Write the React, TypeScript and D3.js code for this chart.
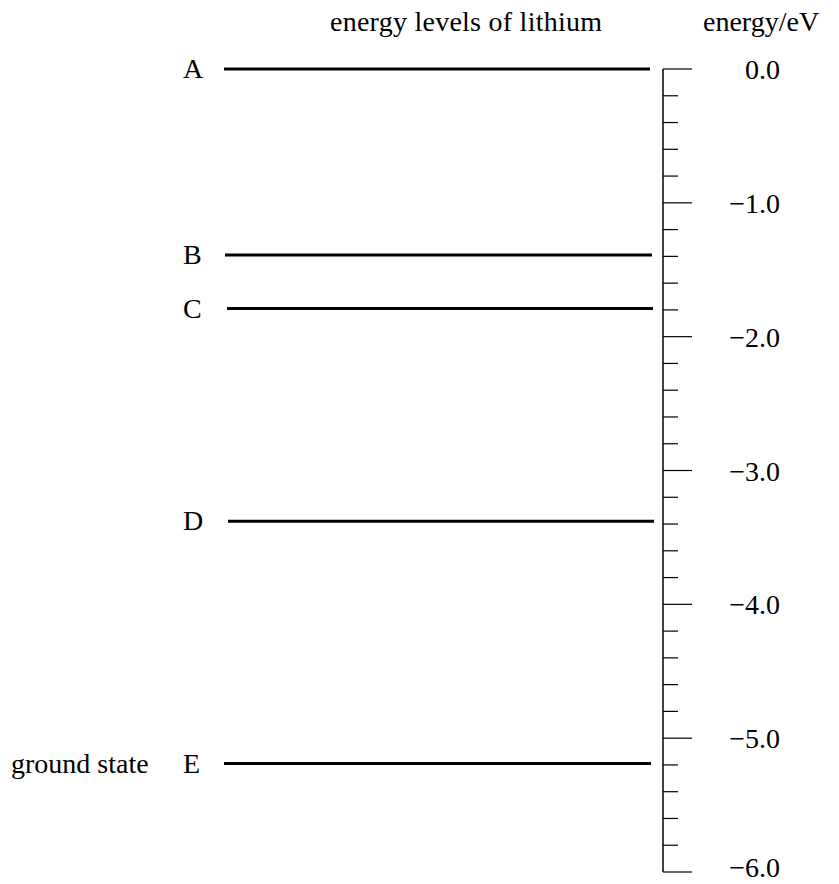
import React, { useEffect, useRef } from 'react';
import * as d3 from 'd3';

// energy levels (eV)
const levelNames = ['A', 'B', 'C', 'D', 'E'];
const levelEnergies = [0.0, -1.39, -1.79, -3.38, -5.19];
const levelStarts = [224, 225, 227, 228, 224];
const levelEnds = [650, 652, 653, 654, 651];

const majorTicks = [0, -1, -2, -3, -4, -5, -6];
const tickLabels = ['0.0', '\u22121.0', '\u22122.0', '\u22123.0', '\u22124.0', '\u22125.0', '\u22126.0'];

const title = 'energy levels of lithium';
const axisTitle = 'energy/eV';
const groundLabel = 'ground state';

const FONT = '"Liberation Serif", "Times New Roman", Times, serif';
const FS = 28;

const App = () => {
  const svgRef = useRef<SVGSVGElement | null>(null);

  useEffect(() => {
    if (!svgRef.current) return;
    d3.select(svgRef.current).selectAll('*').remove();

    const width = 839;
    const height = 884;
    const axisX = 663;

    const svg = d3.select(svgRef.current)
      .attr('width', width)
      .attr('height', height)
      .style('display', 'block');

    const y = d3.scaleLinear().domain([0, -6]).range([69, 872]);

    // Titles
    svg.append('text')
      .attr('x', 330).attr('y', 31)
      .attr('font-family', FONT).attr('font-size', FS)
      .attr('textLength', 272)
      .text(title);

    svg.append('text')
      .attr('x', 703).attr('y', 31)
      .attr('font-family', FONT).attr('font-size', FS)
      .text(axisTitle);

    // Axis line
    svg.append('line')
      .attr('x1', axisX).attr('x2', axisX)
      .attr('y1', y(0)).attr('y2', y(-6))
      .attr('stroke', '#000').attr('stroke-width', 1.5);

    // Minor ticks every 0.2 eV
    const minor = d3.range(0, 31).map(i => -i * 0.2).filter(v => Math.abs(v - Math.round(v)) > 1e-6);
    svg.selectAll('.minor')
      .data(minor)
      .enter()
      .append('line')
      .attr('class', 'minor')
      .attr('x1', axisX).attr('x2', 678)
      .attr('y1', d => y(d)).attr('y2', d => y(d))
      .attr('stroke', '#000').attr('stroke-width', 1.2);

    // Major ticks
    svg.selectAll('.major')
      .data(majorTicks)
      .enter()
      .append('line')
      .attr('class', 'major')
      .attr('x1', axisX).attr('x2', 692)
      .attr('y1', d => y(d)).attr('y2', d => y(d))
      .attr('stroke', '#000').attr('stroke-width', 1.2);

    svg.selectAll('.ticklabel')
      .data(majorTicks)
      .enter()
      .append('text')
      .attr('class', 'ticklabel')
      .attr('x', 780)
      .attr('y', d => Math.min(y(d) + 10, 877))
      .attr('text-anchor', 'end')
      .attr('font-family', FONT).attr('font-size', FS)
      .text((d, i) => tickLabels[i]);

    // Energy levels
    const levels = levelNames.map((name, i) => ({
      name,
      energy: levelEnergies[i],
      x1: levelStarts[i],
      x2: levelEnds[i],
    }));

    svg.selectAll('.level')
      .data(levels)
      .enter()
      .append('line')
      .attr('class', 'level')
      .attr('x1', d => d.x1).attr('x2', d => d.x2)
      .attr('y1', d => y(d.energy)).attr('y2', d => y(d.energy))
      .attr('stroke', '#000').attr('stroke-width', 3);

    svg.selectAll('.levellabel')
      .data(levels)
      .enter()
      .append('text')
      .attr('class', 'levellabel')
      .attr('x', 183)
      .attr('y', d => y(d.energy) + 9)
      .attr('font-family', FONT).attr('font-size', FS)
      .text(d => d.name);

    svg.append('text')
      .attr('x', 11)
      .attr('y', y(levelEnergies[4]) + 9)
      .attr('font-family', FONT).attr('font-size', FS)
      .text(groundLabel);
  }, []);

  return (
    <div style={{ position: 'absolute', left: 0, top: 0 }}>
      <svg ref={svgRef}></svg>
    </div>
  );
};

export default App;
